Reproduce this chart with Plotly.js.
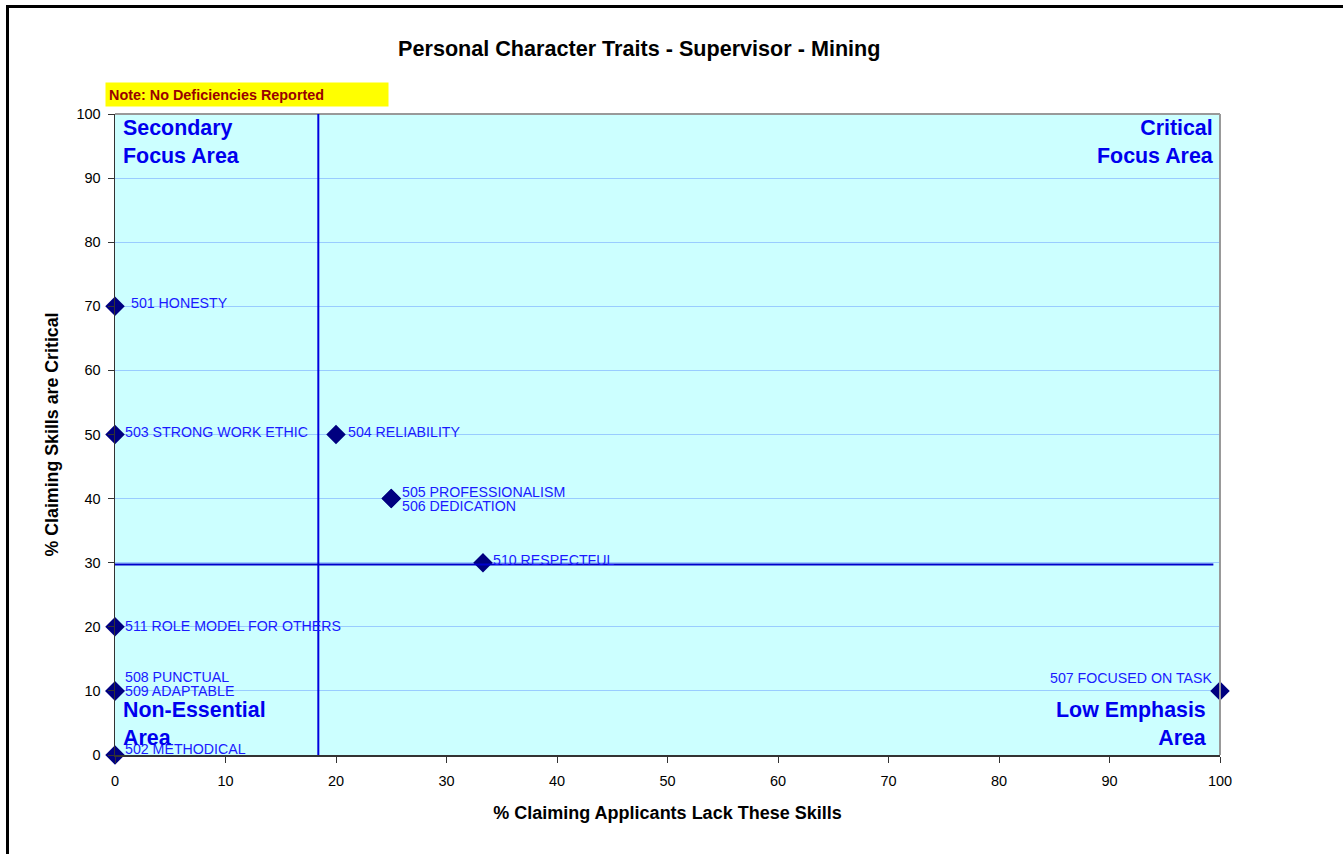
<!DOCTYPE html>
<html>
<head>
<meta charset="utf-8">
<script src="https://cdn.plot.ly/plotly-3.0.1.min.js"></script>
<style>
  html, body { margin: 0; padding: 0; background: #fff; overflow: hidden; }
  #frame { position: absolute; left: 6px; top: 5px; width: 1340px; height: 860px; border: 3px solid #000; box-sizing: border-box; pointer-events: none; z-index: 5; }
  #chart { position: absolute; left: 0; top: 0; width: 1343px; height: 854px; }
</style>
</head>
<body>
<div id="chart"></div>
<div id="frame"></div>
<script>
// ---- data ----
const skillLabels = ["501 HONESTY", "502 METHODICAL", "503 STRONG WORK ETHIC", "504 RELIABILITY",
  "505 PROFESSIONALISM", "506 DEDICATION", "507 FOCUSED ON TASK", "508 PUNCTUAL",
  "509 ADAPTABLE", "510 RESPECTFUL", "511 ROLE MODEL FOR OTHERS"];
const lackPct = [0, 0, 0, 20, 25, 25, 100, 0, 0, 33.3, 0];
const criticalPct = [70, 0, 50, 50, 40, 40, 10, 10, 10, 30, 20];
const lackThreshold = 18.4;
const criticalThreshold = 29.7;
const xTicks = [0, 10, 20, 30, 40, 50, 60, 70, 80, 90, 100];
const yTicks = [0, 10, 20, 30, 40, 50, 60, 70, 80, 90, 100];
const titleText = "Personal Character Traits - Supervisor - Mining";
const xTitle = "% Claiming Applicants Lack These Skills";
const yTitle = "% Claiming Skills are Critical";
const noteText = "Note: No Deficiencies Reported";

// label placement (pixel offsets from each point)
const labelOffsets = {
  "501 HONESTY": [14, 3, "left"],
  "502 METHODICAL": [8, 6, "left"],
  "503 STRONG WORK ETHIC": [8, 3, "left"],
  "504 RELIABILITY": [10, 3, "left"],
  "505 PROFESSIONALISM": [9, 7, "left"],
  "506 DEDICATION": [9, -7, "left"],
  "507 FOCUSED ON TASK": [-6, 13, "right"],
  "508 PUNCTUAL": [8, 14, "left"],
  "509 ADAPTABLE": [8, 0, "left"],
  "510 RESPECTFUL": [8, 3, "left"],
  "511 ROLE MODEL FOR OTHERS": [8, 1, "left"]
};

const FONT = "Liberation Sans, Arial, sans-serif";
const LBL = "#1a1aff";

const annotations = skillLabels.map((t, i) => {
  const o = labelOffsets[t];
  return {
    x: lackPct[i], y: criticalPct[i], xref: "x", yref: "y",
    text: t, showarrow: false, xanchor: o[2], yanchor: "middle",
    xshift: o[0], yshift: o[1],
    font: {family: FONT, size: 14.2, color: LBL}
  };
});

const qFont = {family: FONT, size: 21.4, color: "#0000ee"};
annotations.push(
  {xref: "paper", yref: "paper", x: 0, y: 1, xshift: 6, yshift: 0, xanchor: "left", yanchor: "top", align: "left",
   text: "<b>Secondary<br>Focus Area</b>", showarrow: false, font: qFont},
  {xref: "paper", yref: "paper", x: 1, y: 1, xshift: -4, yshift: 0, xanchor: "right", yanchor: "top", align: "right",
   text: "<b>Critical<br>Focus Area</b>", showarrow: false, font: qFont},
  {xref: "paper", yref: "paper", x: 0, y: 0, xshift: 6, yshift: 3, xanchor: "left", yanchor: "bottom", align: "left",
   text: "<b>Non-Essential<br>Area</b>", showarrow: false, font: qFont},
  {xref: "paper", yref: "paper", x: 1, y: 0, xshift: -11, yshift: 3, xanchor: "right", yanchor: "bottom", align: "right",
   text: "<b>Low Emphasis<br>Area</b>", showarrow: false, font: qFont},
  {xref: "paper", yref: "paper", x: 0, y: 1, xshift: -10, yshift: 7, xanchor: "left", yanchor: "bottom",
   text: "<b>" + noteText + "</b>", showarrow: false, bgcolor: "#ffff00", width: 276, height: 17, align: "left",
   borderpad: 3, font: {family: FONT, size: 14.4, color: "#990000"}}
);

const trace = {
  x: lackPct, y: criticalPct, text: skillLabels, type: "scatter", mode: "markers",
  cliponaxis: false, hoverinfo: "text+x+y",
  marker: {symbol: "diamond", size: 15, color: "#000080", line: {width: 0}}
};

const layout = {
  width: 1343, height: 854,
  margin: {l: 115, r: 123, t: 114, b: 99},
  paper_bgcolor: "#ffffff", plot_bgcolor: "#ccffff",
  showlegend: false,
  font: {family: FONT, size: 14, color: "#000"},
  title: {text: "<b>" + titleText + "</b>", x: 0.476, xanchor: "center", y: 0.943, yanchor: "middle",
          font: {family: FONT, size: 21.6, color: "#000"}},
  xaxis: {range: [0, 100], tickvals: xTicks, ticktext: xTicks.map(String), showgrid: false, zeroline: false,
          showline: true, linecolor: "#333", linewidth: 1.5, ticks: "outside", ticklen: 6, tickcolor: "#333",
          tickfont: {family: FONT, size: 14.5}, automargin: false, ticklabelstandoff: 6,
          title: {text: "<b>" + xTitle + "</b>", standoff: 18, font: {family: FONT, size: 18}}},
  yaxis: {range: [0, 100], tickvals: yTicks, ticktext: yTicks.map(String), showgrid: true, gridcolor: "#99ccff",
          gridwidth: 1, zeroline: false, showline: true, linecolor: "#333", linewidth: 1.5, ticks: "outside",
          ticklen: 6, tickcolor: "#333", tickfont: {family: FONT, size: 14.5}, automargin: false, ticklabelstandoff: 4,
          title: {text: "<b>" + yTitle + "</b>", standoff: 13, font: {family: FONT, size: 17.8}}},
  shapes: [
    {type: "line", xref: "paper", yref: "paper", x0: 0, x1: 1, y0: 1, y1: 1, line: {color: "#999", width: 2}},
    {type: "line", xref: "paper", yref: "paper", x0: 1, x1: 1, y0: 0, y1: 1, line: {color: "#999", width: 2}},
    {type: "line", xref: "x", yref: "y", x0: lackThreshold, x1: lackThreshold, y0: 0, y1: 100,
     line: {color: "#0000dd", width: 2}},
    {type: "line", xref: "x", yref: "y", x0: -0.7, x1: 99.4, y0: criticalThreshold, y1: criticalThreshold,
     line: {color: "#0000cc", width: 2}}
  ],
  annotations: annotations
};

Plotly.newPlot("chart", [trace], layout, {displayModeBar: false, staticPlot: true});
</script>
</body>
</html>
